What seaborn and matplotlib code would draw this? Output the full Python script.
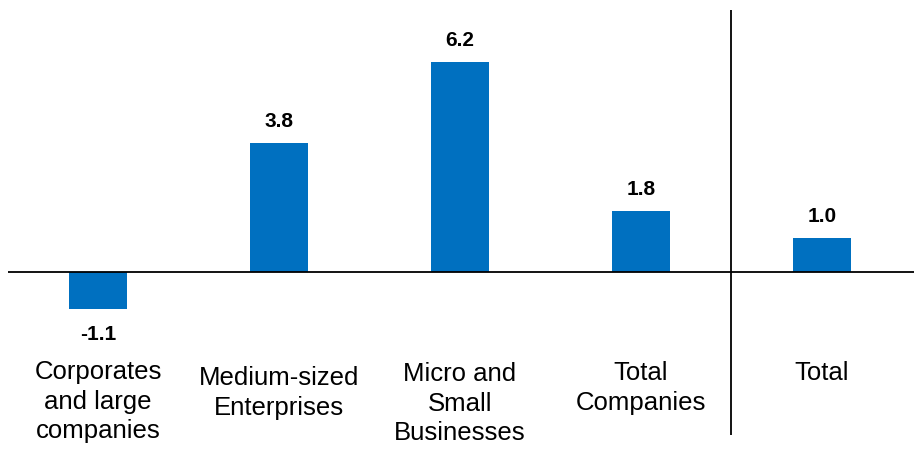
import matplotlib
matplotlib.use("Agg")
import matplotlib.pyplot as plt
import seaborn as sns
import pandas as pd

categories = ["Corporates\nand large\ncompanies", "Medium-sized\nEnterprises",
              "Micro and\nSmall\nBusinesses", "Total\nCompanies", "Total"]
values = [-1.1, 3.8, 6.2, 1.8, 1.0]
value_labels = ["-1.1", "3.8", "6.2", "1.8", "1.0"]

sns.set_theme(style="white")
plt.rcParams["font.family"] = ["Liberation Sans", "DejaVu Sans"]
plt.rcParams["text.color"] = "black"

W, H, DPI = 914, 455, 100
fig = plt.figure(figsize=(W / DPI, H / DPI), dpi=DPI)
ax = fig.add_axes([0, 0, 1, 1])

df = pd.DataFrame({"cat": categories, "val": values})
sns.barplot(data=df, x="cat", y="val", color="#0070C0", saturation=1,
            width=0.315, edgecolor="none", linewidth=0, ax=ax)

# pixel -> data helpers
px_per_x = 181.0
x0_px = 98.0
zero_px = 272.0
px_per_y = 33.9

def dx(px):
    return (px - x0_px) / px_per_x

def dy(py):
    return (zero_px - py) / px_per_y

ax.set_xlim(dx(0), dx(W))
ax.set_ylim(dy(H), dy(0))
ax.axis("off")

# zero line and divider
ax.plot([dx(8), dx(W)], [0, 0], color="black", lw=1.3, solid_capstyle="butt")
ax.plot([3.5, 3.5], [dy(10), dy(435)], color="black", lw=1.3, solid_capstyle="butt")

# value labels
for i, (v, lab) in enumerate(zip(values, value_labels)):
    if v >= 0:
        ax.annotate(lab, (i, v), xytext=(0, 12), textcoords="offset pixels",
                    ha="center", va="bottom", fontsize=15, fontweight="bold",
                    color="black")
    else:
        ax.annotate(lab, (i, v), xytext=(0, -16), textcoords="offset pixels",
                    ha="center", va="top", fontsize=15, fontweight="bold",
                    color="black")

# category labels
label_top_px = [360, 366, 362, 361, 361]
for i, (c, t) in enumerate(zip(categories, label_top_px)):
    ax.text(i, dy(t), c, ha="center", va="top", fontsize=18.5,
            linespacing=1.3, color="black")

fig.savefig("out.png", dpi=DPI)
